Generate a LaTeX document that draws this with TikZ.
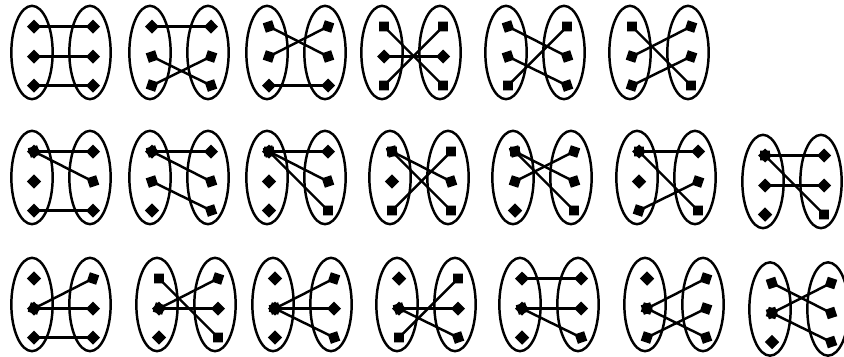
\documentclass[tikz,border=0pt]{standalone}
\usepackage{xcolor}
\usepackage{tikz}
\usetikzlibrary{shapes,arrows.meta,positioning,calc}

% two sets: #1 prefix, #2 x of left set, #3 y
\newcommand{\twosets}[3]{%
  \node[oval] (#1L) at (#2,#3) {};
  \node[oval] (#1R) at (#2+58,#3) {};
  \coordinate (#1l1) at (#2+2,#3-26);
  \coordinate (#1l2) at (#2+2,#3+4);
  \coordinate (#1l3) at (#2+2,#3+33);
  \coordinate (#1r1) at (#2+61,#3-26);
  \coordinate (#1r2) at (#2+61,#3+4);
  \coordinate (#1r3) at (#2+61,#3+33);
}

\begin{document}
\begin{tikzpicture}[x=0.03cm, y=-0.03cm,
  oval/.style={draw, ellipse, line width=2.1pt, inner sep=0pt, minimum width=1.24cm, minimum height=2.8cm},
  elem/.style={diamond, fill=black, inner sep=0pt, minimum size=0.44cm},
  link/.style={line width=2.1pt, {Kite[length=0.42cm,width=0.42cm,inset=0.21cm]}-{Kite[length=0.42cm,width=0.42cm,inset=0.21cm]}, shorten <=-0.21cm, shorten >=-0.21cm}]
\useasboundingbox (0,0) rectangle (844,356);

% first row: bijections
\twosets{a1}{32}{52.5}
\draw[link] (a1l1) -- (a1r1); \draw[link] (a1l2) -- (a1r2); \draw[link] (a1l3) -- (a1r3);
\twosets{a2}{150}{52.5}
\draw[link] (a2l1) -- (a2r1); \draw[link] (a2l2) -- (a2r3); \draw[link] (a2l3) -- (a2r2);
\twosets{a3}{267}{52.5}
\draw[link] (a3l1) -- (a3r2); \draw[link] (a3l2) -- (a3r1); \draw[link] (a3l3) -- (a3r3);
\twosets{a4}{382}{52.5}
\draw[link] (a4l1) -- (a4r3); \draw[link] (a4l2) -- (a4r2); \draw[link] (a4l3) -- (a4r1);
\twosets{a5}{506}{52.5}
\draw[link] (a5l1) -- (a5r2); \draw[link] (a5l2) -- (a5r3); \draw[link] (a5l3) -- (a5r1);
\twosets{a6}{630}{52.5}
\draw[link] (a6l1) -- (a6r3); \draw[link] (a6l2) -- (a6r1); \draw[link] (a6l3) -- (a6r2);

% second row
\twosets{b1}{32}{177.5}
\draw[link] (b1l1) -- (b1r1); \draw[link] (b1l1) -- (b1r2); \draw[link] (b1l3) -- (b1r3);
\node[elem] (b1e2) at (b1l2) {};
\twosets{b2}{150}{177.5}
\draw[link] (b2l1) -- (b2r1); \draw[link] (b2l1) -- (b2r2); \draw[link] (b2l2) -- (b2r3);
\node[elem] (b2e3) at (b2l3) {};
\twosets{b3}{267}{177.5}
\draw[link] (b3l1) -- (b3r1); \draw[link] (b3l1) -- (b3r2); \draw[link] (b3l1) -- (b3r3);
\node[elem] (b3e2) at (b3l2) {};
\node[elem] (b3e3) at (b3l3) {};
\twosets{b4}{390}{177.5}
\draw[link] (b4l1) -- (b4r2); \draw[link] (b4l1) -- (b4r3); \draw[link] (b4l3) -- (b4r1);
\node[elem] (b4e2) at (b4l2) {};
\twosets{b5}{513}{177.5}
\draw[link] (b5l1) -- (b5r2); \draw[link] (b5l1) -- (b5r3); \draw[link] (b5l2) -- (b5r1);
\node[elem] (b5e3) at (b5l3) {};
\twosets{b6}{637}{177.5}
\draw[link] (b6l1) -- (b6r1); \draw[link] (b6l1) -- (b6r3); \draw[link] (b6l3) -- (b6r2);
\node[elem] (b6e2) at (b6l2) {};
\twosets{b7}{763}{181.5}
\draw[link] (b7l1) -- (b7r1); \draw[link] (b7l1) -- (b7r3); \draw[link] (b7l2) -- (b7r2);
\node[elem] (b7e3) at (b7l3) {};

% third row
\twosets{c1}{32}{304.5}
\draw[link] (c1l2) -- (c1r1); \draw[link] (c1l2) -- (c1r2); \draw[link] (c1l3) -- (c1r3);
\node[elem] (c1e1) at (c1l1) {};
\twosets{c2}{157}{304.5}
\draw[link] (c2l1) -- (c2r3); \draw[link] (c2l2) -- (c2r1); \draw[link] (c2l2) -- (c2r2);
\node[elem] (c2e3) at (c2l3) {};
\twosets{c3}{273}{304.5}
\draw[link] (c3l2) -- (c3r1); \draw[link] (c3l2) -- (c3r2); \draw[link] (c3l2) -- (c3r3);
\node[elem] (c3e1) at (c3l1) {};
\node[elem] (c3e3) at (c3l3) {};
\twosets{c4}{397}{304.5}
\draw[link] (c4l2) -- (c4r2); \draw[link] (c4l2) -- (c4r3); \draw[link] (c4l3) -- (c4r1);
\node[elem] (c4e1) at (c4l1) {};
\twosets{c5}{520}{304.5}
\draw[link] (c5l1) -- (c5r1); \draw[link] (c5l2) -- (c5r2); \draw[link] (c5l2) -- (c5r3);
\node[elem] (c5e3) at (c5l3) {};
\twosets{c6}{645}{304.5}
\draw[link] (c6l2) -- (c6r1); \draw[link] (c6l2) -- (c6r3); \draw[link] (c6l3) -- (c6r2);
\node[elem] (c6e1) at (c6l1) {};
\twosets{c7}{770}{309}
\draw[link] (c7l1) -- (c7r2); \draw[link] (c7l2) -- (c7r1); \draw[link] (c7l2) -- (c7r3);
\node[elem] (c7e3) at (c7l3) {};
\end{tikzpicture}
\end{document}
